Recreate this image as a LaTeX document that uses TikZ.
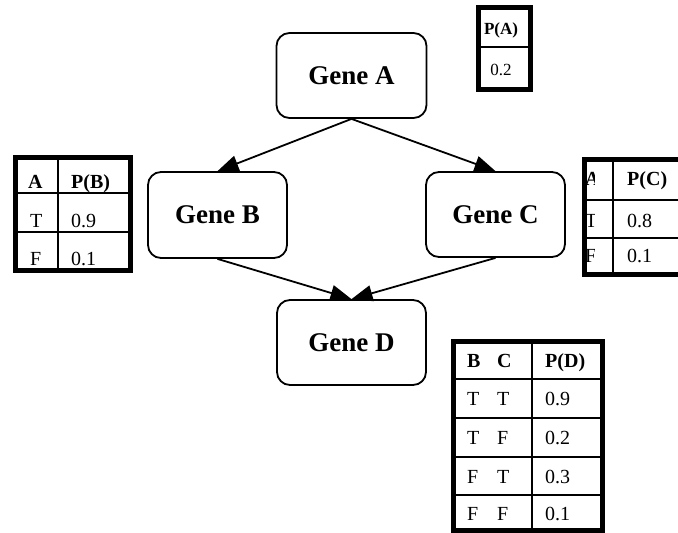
\documentclass[tikz,border=0pt]{standalone}
\usepackage{fontspec}
\setmainfont{Liberation Serif}
\usetikzlibrary{arrows.meta}
\begin{document}
\begin{tikzpicture}[x=1pt,y=-1pt,
  gene/.style={draw,line width=1.8pt,rounded corners=13pt,inner sep=0pt,
    font=\fontsize{27}{30}\selectfont\bfseries},
  edge/.style={line width=1.8pt,-{Triangle[length=21pt,width=16pt]}},
  tframe/.style={line width=5pt},
  tline/.style={line width=2.5pt},
  ttxt/.style={anchor=base west,inner sep=0pt,font=\fontsize{20}{22}\selectfont},
  thead/.style={anchor=base west,inner sep=0pt,font=\fontsize{20}{22}\selectfont\bfseries}]
\useasboundingbox (0,0) rectangle (678,533);
\fill[white] (0,0) rectangle (678,533);

% gene nodes
\node[gene,minimum width=150pt,minimum height=85pt] (A) at (351.5,75.5) {Gene A};
\node[gene,minimum width=139pt,minimum height=86pt] (B) at (217.5,215) {Gene B};
\node[gene,minimum width=139pt,minimum height=85pt] (C) at (495.5,214.5) {Gene C};
\node[gene,minimum width=149pt,minimum height=85pt] (D) at (351.5,342.5) {Gene D};

\draw[edge] (A.south) -- (B.north);
\draw[edge] (A.south) -- (C.north);
\draw[edge] (B.south) -- (D.north);
\draw[edge] (C.south) -- (D.north);

% table P(A)
\draw[tline] (478,47) -- (530,47);
\draw[tframe] (478,7) rectangle (530,89);
\node[thead,anchor=base,font=\fontsize{17}{19}\selectfont\bfseries] (pah) at (501,34) {P(A)};
\node[ttxt,anchor=base,font=\fontsize{17}{19}\selectfont] (pav) at (501,75) {0.2};

% table P(B)
\draw[tline] (58,157.5) -- (58,270.5);
\draw[tline] (15.5,193) -- (130.5,193);
\draw[tline] (15.5,232) -- (130.5,232);
\draw[tframe] (15.5,157.5) rectangle (130.5,270.5);
\node[thead] (pb11) at (28,188) {A};
\node[thead] (pb12) at (71,188) {P(B)};
\node[ttxt] (pb21) at (30,227) {T};
\node[ttxt] (pb22) at (71,227) {0.9};
\node[ttxt] (pb31) at (30,265) {F};
\node[ttxt] (pb32) at (71,265) {0.1};

% table P(C), cut by the right edge
\draw[tline] (613,159.5) -- (613,274.5);
\draw[tline] (584,200) -- (690,200);
\draw[tline] (584,238) -- (690,238);
\draw[tframe] (584,159.5) rectangle (690,274.5);
\begin{scope}
  \clip (586,162) rectangle (594.5,272);
  \node[thead] (pc11) at (585,185) {A};
  \node[ttxt] (pc21) at (585,227) {T};
  \node[ttxt] (pc31) at (585,262) {F};
\end{scope}
\node[thead] (pc12) at (627,185) {P(C)};
\node[ttxt] (pc22) at (627,227) {0.8};
\node[ttxt] (pc32) at (627,262) {0.1};

% table P(D)
\draw[tline] (532,341) -- (532,530);
\foreach \yy in {379,418,457,495} \draw[tline] (453.5,\yy) -- (602.5,\yy);
\draw[tframe] (453.5,341) rectangle (602.5,530);
\node[thead] (pdb) at (467,367) {B};
\node[thead] (pdc) at (497,367) {C};
\node[thead] (pdh) at (545,367) {P(D)};
\node[ttxt] (pd1b) at (467,405) {T};
\node[ttxt] (pd1c) at (497,405) {T};
\node[ttxt] (pd1v) at (545,405) {0.9};
\node[ttxt] (pd2b) at (467,444) {T};
\node[ttxt] (pd2c) at (497,444) {F};
\node[ttxt] (pd2v) at (545,444) {0.2};
\node[ttxt] (pd3b) at (467,483) {F};
\node[ttxt] (pd3c) at (497,483) {T};
\node[ttxt] (pd3v) at (545,483) {0.3};
\node[ttxt] (pd4b) at (467,520) {F};
\node[ttxt] (pd4c) at (497,520) {F};
\node[ttxt] (pd4v) at (545,520) {0.1};
\end{tikzpicture}
\end{document}
